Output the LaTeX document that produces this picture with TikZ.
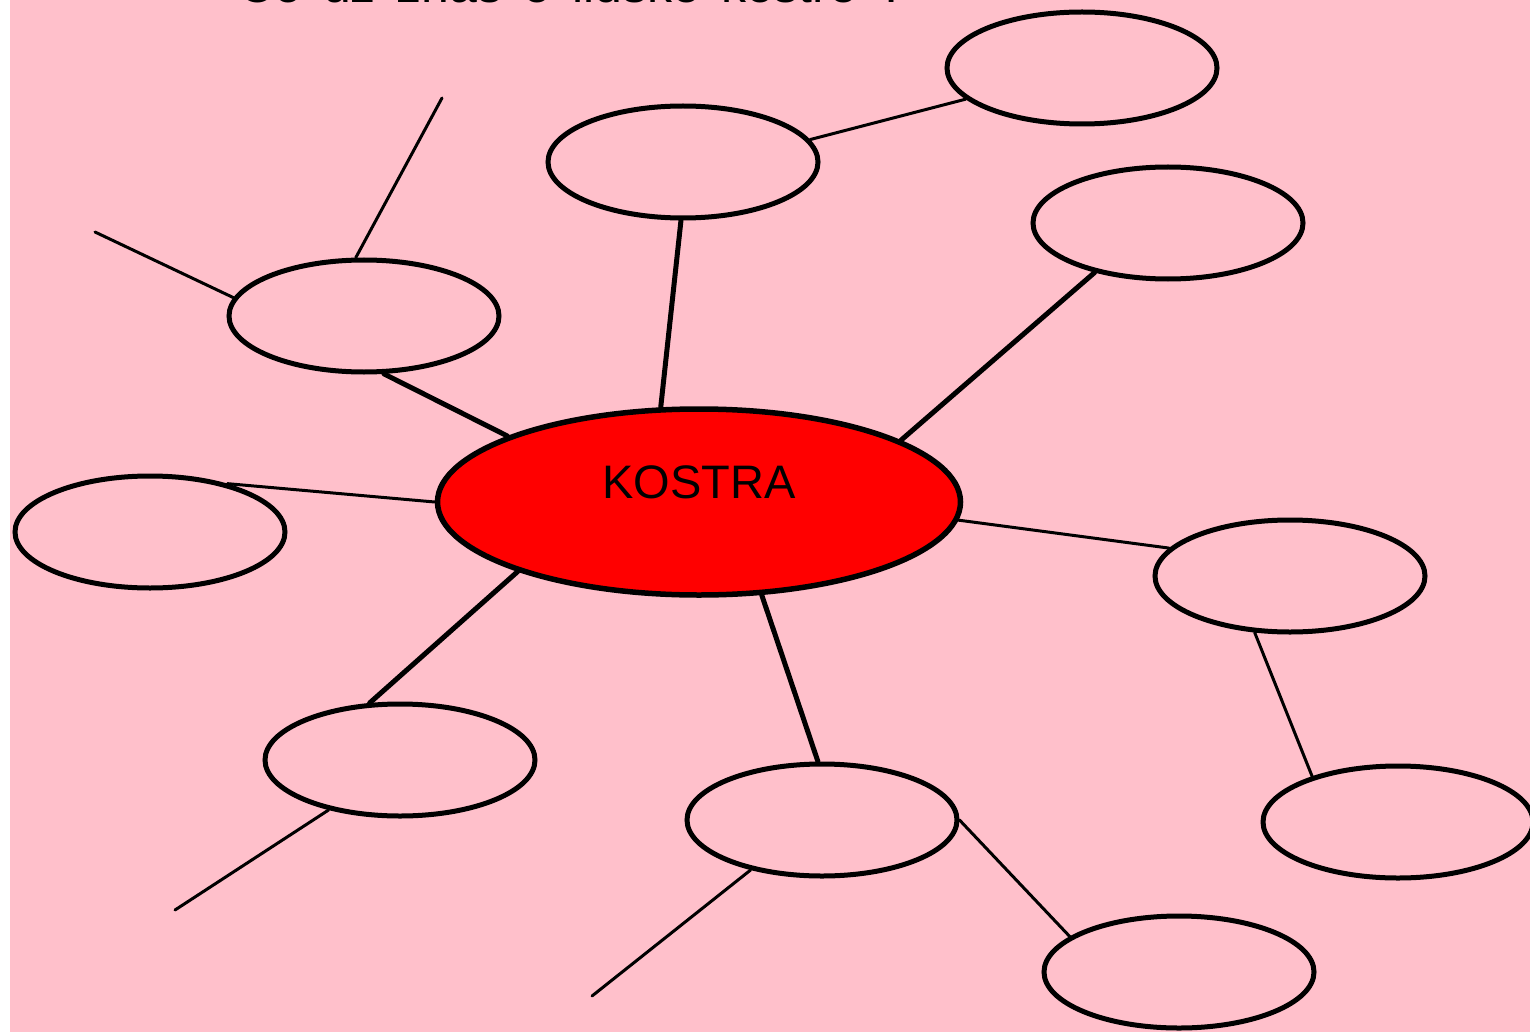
\documentclass[tikz,border=0pt]{standalone}
\usepackage{fontspec}
\setmainfont{Liberation Sans}
\usetikzlibrary{shapes.geometric}
\definecolor{bgpink}{RGB}{255,192,203}
\definecolor{kred}{RGB}{255,0,0}

\begin{document}
\begin{tikzpicture}[x = 1pt, y = -1pt, bubble/.style = {draw, ellipse, line width = 5pt, minimum width = 270pt, minimum height = 112pt}, thick line/.style = {line width = 5pt, line cap = round}, thin line/.style = {line width = 3pt, line cap = round}]
  \useasboundingbox (0,0) rectangle (1530,1032);
  \fill[bgpink] (10,0) rectangle (1530,1032);
  \node[anchor = base west, inner sep = 0pt, font = \fontsize{50}{60}\selectfont] (title) at (238,3) {\spaceskip=21pt Co už znáš o lidské kostře ?};
  \node[bubble, fill = kred, line width = 5.5pt, minimum width = 523pt, minimum height = 186pt, text height = 34pt, text depth = 42pt, font = \fontsize{47}{56}\selectfont] (kostra) at (699,502) {KOSTRA};
  \node[bubble] (n-1) at (683,162) {};
  \node[bubble] (n-2) at (1082,68) {};
  \node[bubble] (n-3) at (1168,223) {};
  \node[bubble] (n-4) at (364,316) {};
  \node[bubble] (n-5) at (150,532) {};
  \node[bubble] (n-6) at (1290,576) {};
  \node[bubble] (n-7) at (400,760) {};
  \node[bubble] (n-8) at (822,820) {};
  \node[bubble] (n-9) at (1398,822) {};
  \node[bubble] (n-10) at (1179,972) {};
  \coordinate (f-1) at (442,98);
  \coordinate (f-2) at (95,232);
  \coordinate (f-3) at (175,910);
  \coordinate (f-4) at (592,996);
  \path[thick line] (kostra.112) edge (n-1.268)
                    (kostra.17)  edge (n-3.214)
                    (kostra.161) edge (n-4.289)
                    (kostra.201) edge (n-7.118)
                    (kostra.304) edge (n-8.94);
  \path[thin line]  (kostra.180) edge (n-5.32)
                    (kostra.356) edge (n-6.167)
                    (n-1.10)     edge (n-2.195)
                    (n-4.98)     edge (f-1)
                    (n-4.172)    edge (f-2)
                    (n-6.238)    edge (n-9.152)
                    (n-7.215)    edge (f-3)
                    (n-8.215)    edge (f-4)
                    (n-8.0)      edge (n-10.162);
\end{tikzpicture}
\end{document}
